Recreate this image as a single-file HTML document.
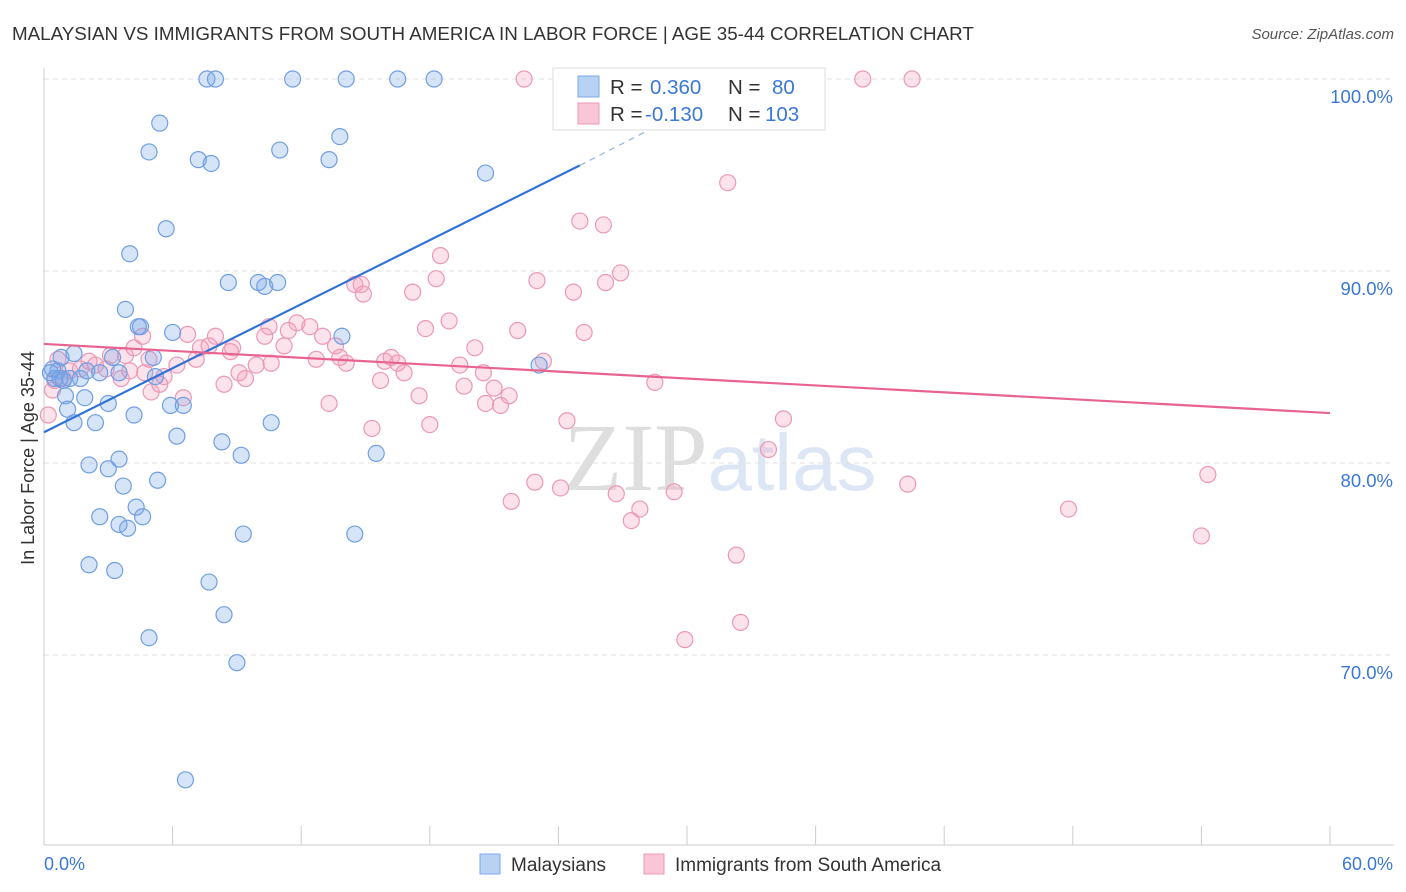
<!DOCTYPE html>
<html><head><meta charset="utf-8"><style>
body{margin:0;background:#fff;font-family:"Liberation Sans",sans-serif;}
svg{display:block}
</style></head><body>
<svg id="chart" width="1406" height="892">
<text x="12" y="40" font-size="18.8" fill="#333">MALAYSIAN VS IMMIGRANTS FROM SOUTH AMERICA IN LABOR FORCE | AGE 35-44 CORRELATION CHART</text>
<text x="1394" y="39" font-size="15" fill="#555" font-style="italic" text-anchor="end">Source: ZipAtlas.com</text>
<text x="720" y="490" font-size="96" fill="#e4e4e4" text-anchor="middle" font-family="Liberation Serif,serif"><tspan fill="#dedede">ZIP</tspan><tspan fill="#dce6f5" font-family="Liberation Sans,sans-serif" font-size="80">atlas</tspan></text>
<g id="grid"></g>
<g id="axes"></g>
<g id="marks"></g>
<g id="legend">
<rect x="553" y="68" width="272" height="62" fill="#fff" stroke="#ddd"/>
<rect x="578" y="76" width="21" height="21" fill="#b8d2f4" stroke="#7ea8e6"/>
<rect x="578" y="103" width="21" height="21" fill="#f8c6d6" stroke="#ec98b4"/>
<text x="610" y="94" font-size="20.5" fill="#333">R = <tspan fill="#3a78d6" x="650">0.360</tspan></text>
<text x="728" y="94" font-size="20.5" fill="#333">N = <tspan fill="#3a78d6" x="772">80</tspan></text>
<text x="610" y="121" font-size="20.5" fill="#333">R = <tspan fill="#3a78d6" x="645">-0.130</tspan></text>
<text x="728" y="121" font-size="20.5" fill="#333">N = <tspan fill="#3a78d6" x="765">103</tspan></text>
</g>
<g>
<rect x="480" y="854" width="20" height="20" fill="#b8d2f4" stroke="#7ea8e6"/>
<text x="511" y="871" font-size="19" fill="#333">Malaysians</text>
<rect x="644" y="854" width="20" height="20" fill="#f8c6d6" stroke="#ec98b4"/>
<text x="675" y="871" font-size="19" fill="#333">Immigrants from South America</text>
</g>
<text transform="translate(34,458) rotate(-90)" font-size="18" fill="#333" text-anchor="middle">In Labor Force | Age 35-44</text>
</svg>
<script>
const yTicks=[100,90,80,70];
const yTickLabels=["100.0%","90.0%","80.0%","70.0%"];
const xTicks=[0,6,12,18,24,30,36,42,48,54,60];
const xEndLabels=["0.0%","60.0%"];
const blueX=[7.6,8.0,11.6,14.1,16.5,18.2,5.4,4.9,7.2,7.8,11.0,13.8,13.3,20.6,5.7,4.0,8.6,10.0,10.3,10.9,3.8,4.4,4.5,6.0,13.9,0.8,1.4,3.2,5.1,23.1,0.3,0.65,0.5,0.9,1.2,1.7,2.0,2.6,3.5,5.2,1.0,1.9,3.0,4.2,5.9,6.5,1.1,1.4,2.4,6.2,8.3,10.6,9.2,15.5,3.5,2.1,3.0,5.3,3.7,2.6,3.5,3.9,4.3,4.6,9.3,14.5,2.1,3.3,7.7,8.4,4.9,9.0,6.6,0.4,0.75];
const blueY=[100,100,100,100,100,100,97.7,96.2,95.8,95.6,96.3,97.0,95.8,95.1,92.2,90.9,89.4,89.4,89.2,89.4,88.0,87.1,87.1,86.8,86.6,85.5,85.7,85.5,85.5,85.1,84.7,84.8,84.4,84.3,84.4,84.4,84.8,84.7,84.7,84.5,83.5,83.4,83.1,82.5,83.0,83.0,82.8,82.1,82.1,81.4,81.1,82.1,80.4,80.5,80.2,79.9,79.7,79.1,78.8,77.2,76.8,76.6,77.7,77.2,76.3,76.3,74.7,74.4,73.8,72.1,70.9,69.6,63.5,84.9,84.4];
const pinkX=[22.4,38.2,40.5,31.9,25.0,26.1,18.5,26.9,18.3,26.2,23.0,24.7,14.5,14.8,14.9,17.2,18.9,22.1,25.2,17.8,20.1,10.5,11.8,12.4,11.4,13.0,8.0,6.7,4.6,7.3,7.7,8.8,10.3,11.2,13.6,12.7,13.8,15.9,16.2,16.5,16.8,15.7,19.4,20.5,23.3,28.5,19.6,21.0,21.7,17.5,13.3,20.6,21.3,15.3,18.0,24.4,34.5,33.8,3.1,3.8,4.2,2.4,2.9,4.9,5.6,6.2,7.1,8.4,9.4,9.9,10.6,3.6,4.0,1.2,1.7,2.1,0.5,0.2,0.4,0.65,0.9,6.5,5.0,22.9,24.1,26.7,29.4,27.4,27.8,21.8,40.3,47.8,54.3,54.0,32.3,32.5,29.9,4.7,5.4,8.7,9.1,14.1];
const pinkY=[100,100,100,94.6,92.6,92.4,90.8,89.9,89.6,89.4,89.5,88.9,89.3,89.3,88.8,88.9,87.4,86.9,86.8,87.0,86.0,87.1,87.3,87.1,86.9,86.6,86.6,86.7,86.6,86.0,86.1,86.0,86.6,86.1,86.1,85.4,85.5,85.3,85.5,85.2,84.7,84.3,85.1,84.7,85.3,84.2,84.0,83.9,83.5,83.5,83.1,83.1,83.0,81.8,82.0,82.2,82.3,80.7,85.6,85.6,86.0,85.1,84.9,85.4,84.5,85.1,85.4,84.1,84.4,85.1,85.2,84.4,84.8,84.8,84.9,85.3,84.3,82.5,83.8,85.4,84.4,83.4,83.7,79.0,78.7,78.4,78.5,77.0,77.6,78.0,78.9,77.6,79.4,76.2,75.2,71.7,70.8,84.7,84.1,85.8,84.7,85.2];
const blueTrend=[[0,81.6],[25.0,95.5]];
const blueTrendDash=[[25.0,95.5],[30.6,98.7]];
const pinkTrend=[[0,86.2],[60,82.6]];

const NS="http://www.w3.org/2000/svg";
const X0=44,X1=1330,Ytop=79;
const xs=v=>X0+(X1-X0)*v/60;
const ys=v=>Ytop+(100-v)*19.2;
function mk(tag,attrs,parent){const e=document.createElementNS(NS,tag);for(const k in attrs)e.setAttribute(k,attrs[k]);parent.appendChild(e);return e;}
const grid=document.getElementById('grid'),axes=document.getElementById('axes'),marks=document.getElementById('marks');
yTicks.forEach((t,i)=>{
 const l=mk('line',{x1:X0,x2:1394,y1:ys(t),y2:ys(t),stroke:'#e2e2e2','stroke-dasharray':'5,4'},grid);
 
 
 const tx=mk('text',{x:1393,y:ys(t)+24,'font-size':18.5,fill:'#3a78d6','text-anchor':'end'},axes);
 tx.textContent=yTickLabels[i];
 
 
});
const xa=mk('line',{x1:X0,x2:1394,y1:845,y2:845,stroke:'#ccc'},axes);


const ya=mk('line',{x1:X0,x2:X0,y1:68,y2:845,stroke:'#ccc'},axes);


xTicks.forEach(t=>{
 const l=mk('line',{x1:xs(t),x2:xs(t),y1:826,y2:845,stroke:'#ccc'},axes);
 
 
});
const xl0=mk('text',{x:44,y:870,'font-size':18,fill:'#3a78d6'},axes);xl0.textContent=xEndLabels[0];


const xl1=mk('text',{x:1393,y:870,'font-size':18,fill:'#3a78d6','text-anchor':'end'},axes);xl1.textContent=xEndLabels[1];


pinkX.forEach((v,i)=>{
 const c=mk('circle',{cx:xs(v),cy:ys(pinkY[i]),r:8,fill:'rgba(244,160,188,0.3)',stroke:'#ec98b4','stroke-width':1.2},marks);
 
 
});
blueX.forEach((v,i)=>{
 const c=mk('circle',{cx:xs(v),cy:ys(blueY[i]),r:8,fill:'rgba(120,166,232,0.3)',stroke:'#6f9fe2','stroke-width':1.2},marks);
 
 
});
const bt=mk('line',{x1:xs(blueTrend[0][0]),y1:ys(blueTrend[0][1]),x2:xs(blueTrend[1][0]),y2:ys(blueTrend[1][1]),stroke:'#2f72d6','stroke-width':2.2},marks);


const bd=mk('line',{x1:xs(blueTrendDash[0][0]),y1:ys(blueTrendDash[0][1]),x2:xs(blueTrendDash[1][0]),y2:ys(blueTrendDash[1][1]),stroke:'#8fb2e6','stroke-width':1.2,'stroke-dasharray':'6,5'},marks);


const pt=mk('line',{x1:xs(pinkTrend[0][0]),y1:ys(pinkTrend[0][1]),x2:xs(pinkTrend[1][0]),y2:ys(pinkTrend[1][1]),stroke:'#e8648e','stroke-width':2.2},marks);


</script>
</body></html>
